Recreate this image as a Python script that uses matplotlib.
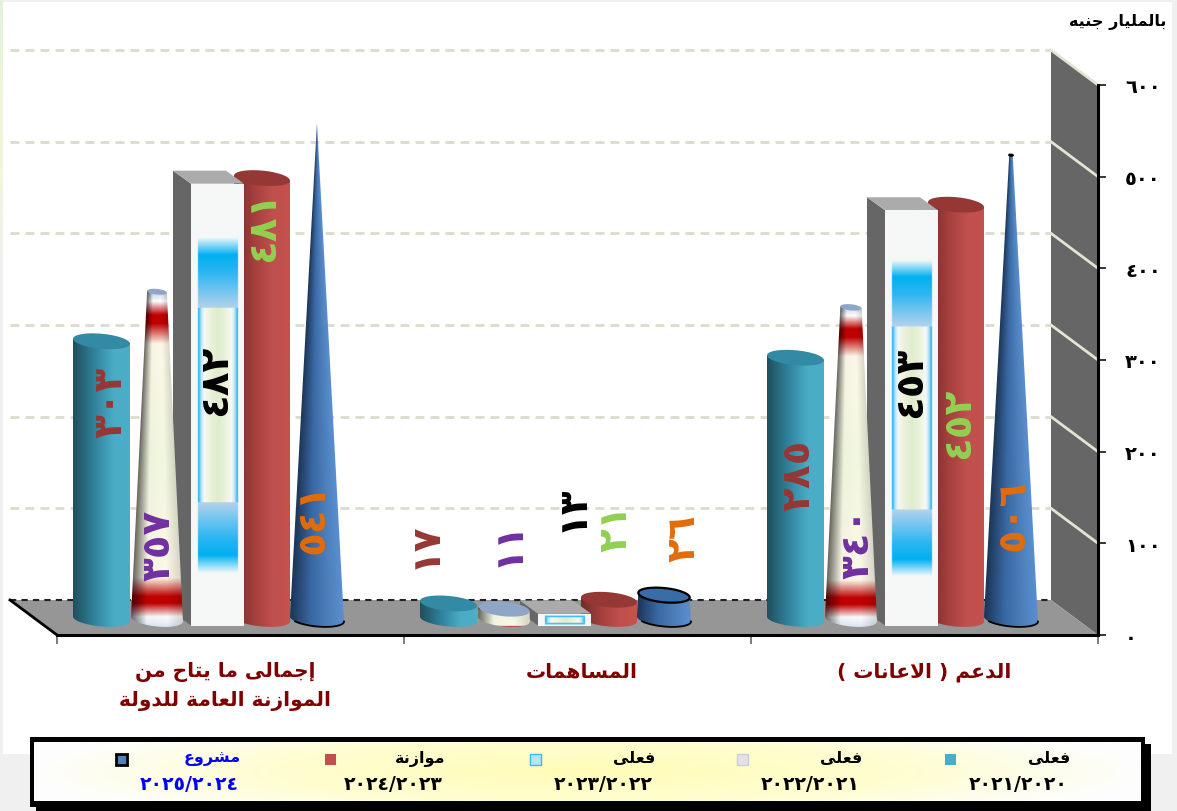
import numpy as np
import matplotlib
matplotlib.use("Agg")
import matplotlib.pyplot as plt
from matplotlib.patches import Polygon, Rectangle
from matplotlib.colors import to_rgb

plt.rcParams['font.family'] = ['DejaVu Sans']

# ---- data -------------------------------------------------------------
categories = ["إجمالى ما يتاح من\nالموازنة العامة للدولة", "المساهمات", "الدعم ( الاعانات )"]
series_names = ["فعلى", "فعلى", "فعلى", "موازنة", "مشروع"]
series_years = ["٢٠٢١/٢٠٢٠", "٢٠٢٢/٢٠٢١", "٢٠٢٣/٢٠٢٢", "٢٠٢٤/٢٠٢٣", "٢٠٢٥/٢٠٢٤"]
actual_2021 = [303, 17, 285]
actual_2022 = [357, 11, 340]
actual_2023 = [482, 13, 453]
budget_2024 = [481, 21, 452]
project_2025 = [541, 26, 506]
series_values = [actual_2021, actual_2022, actual_2023, budget_2024, project_2025]
y_ticks = [0, 100, 200, 300, 400, 500, 600]
unit_label = "بالمليار جنيه"

# ---- layout / style ----------------------------------------------------
W, H = 1177, 812
AX_L, AX_R, AX_T, AX_B = 57, 1098, 86, 636
PX_X = 3 / (AX_R - AX_L)
PX_Y = 600 / (AX_B - AX_T)
DEPTH_X, DEPTH_Y = -47 * PX_X, 35 * PX_Y
BASE = 16 * PX_Y
ELL = 7.5 * PX_Y
TILT = 2.5 * PX_Y
SLOT_LEFT = [16 * PX_X, 74 * PX_X, 134 * PX_X, 177 * PX_X, 233 * PX_X]
SLOT_W = [57 * PX_X, 52 * PX_X, 53 * PX_X, 56 * PX_X, 54 * PX_X]
BOX_DX, BOX_DY = -18 * PX_X, 13 * PX_Y
label_colors = ['#953735', '#7030a0', '#000000', '#92d050', '#e36c09']
# label centres on the page, in pixels
LABEL_PIX_X = [[110, 158, 215, 263, 313], [425, 508, 572, 615, 683], [798, 857, 910, 958, 1012]]
LABEL_PIX_Y = [[402, 545, 380, 226, 518], [545, 543, 508, 528, 538], [475, 543, 382, 423, 515]]
CATEGORY_POS = [.484, 1.513, 2.5]


def shape(text):
    """Arabic presentation forms in visual order (matplotlib does no shaping)."""
    forms = {'ا': (0xFE8D, 0xFE8E), 'إ': (0xFE87, 0xFE88), 'ب': (0xFE8F, 0xFE90, 0xFE91, 0xFE92),
             'ة': (0xFE93, 0xFE94), 'ت': (0xFE95, 0xFE96, 0xFE97, 0xFE98), 'ج': (0xFE9D, 0xFE9E, 0xFE9F, 0xFEA0),
             'ح': (0xFEA1, 0xFEA2, 0xFEA3, 0xFEA4), 'د': (0xFEA9, 0xFEAA), 'ر': (0xFEAD, 0xFEAE),
             'ز': (0xFEAF, 0xFEB0), 'س': (0xFEB1, 0xFEB2, 0xFEB3, 0xFEB4), 'ش': (0xFEB5, 0xFEB6, 0xFEB7, 0xFEB8),
             'ع': (0xFEC9, 0xFECA, 0xFECB, 0xFECC), 'ف': (0xFED1, 0xFED2, 0xFED3, 0xFED4),
             'ل': (0xFEDD, 0xFEDE, 0xFEDF, 0xFEE0), 'م': (0xFEE1, 0xFEE2, 0xFEE3, 0xFEE4),
             'ن': (0xFEE5, 0xFEE6, 0xFEE7, 0xFEE8), 'ه': (0xFEE9, 0xFEEA, 0xFEEB, 0xFEEC),
             'و': (0xFEED, 0xFEEE), 'ى': (0xFEEF, 0xFEF0), 'ي': (0xFEF1, 0xFEF2, 0xFEF3, 0xFEF4)}
    out = []
    i = 0
    while i < len(text):
        c = text[i]
        if c not in forms:
            out.append({'(': ')', ')': '('}.get(c, c))
            i += 1
            continue
        prev = text[i - 1] if i else ' '
        joined_prev = prev in forms and len(forms[prev]) == 4
        if c == 'ل' and i + 1 < len(text) and text[i + 1] == 'ا':
            out.append(chr(0xFEFC if joined_prev else 0xFEFB))
            i += 2
            continue
        nxt = text[i + 1] if i + 1 < len(text) else ' '
        f = forms[c]
        joins_next = len(f) == 4 and nxt in forms
        if joined_prev and joins_next:
            out.append(chr(f[3]))
        elif joined_prev:
            out.append(chr(f[1]))
        elif joins_next:
            out.append(chr(f[2]))
        else:
            out.append(chr(f[0]))
        i += 1
    return ''.join(reversed(out))


def arabic_digits(v):
    return ''.join('٠١٢٣٤٥٦٧٨٩'[int(d)] for d in str(v))


def rgb_ramp(pos, stops):
    xs = [s[0] for s in stops]
    cols = np.array([to_rgb(s[1]) for s in stops])
    return np.stack([np.interp(pos, xs, cols[:, k]) for k in range(3)], axis=-1)


def teal(u, t):
    return rgb_ramp(u, [(0, '#1f4f5c'), (.35, '#2f7f98'), (.72, '#4bacc6'), (1, '#4cadc8')])


def red(u, t):
    return rgb_ramp(u, [(0, '#6f2c2a'), (.35, '#a33f3d'), (.7, '#c0504d'), (1, '#c4524f')])


def blue(u, t):
    return rgb_ramp(u, [(0, '#1d3557'), (.4, '#3a6aa5'), (.75, '#4f81bd'), (1, '#5a8fd0')])


def striped(u, t):
    col = rgb_ramp(t, [(0, '#d5e3f2'), (.035, '#fbfbfb'), (.075, '#c00000'), (.095, '#c00000'), (.15, '#fcf8e8'),
                       (.5, '#f2f8e0'), (.84, '#fcf8e8'), (.9, '#c00000'), (.925, '#c00000'), (.965, '#ffffff'),
                       (1, '#b4c6e0')])
    shade = np.interp(u, [0, .3, .7, 1], [.42, .98, 1, .86])
    return col * shade[..., None]


def panel(u, t):
    img = np.ones(u.shape + (3,)) * np.array(to_rgb('#f6f7f7'))
    mask = (u > .13) & (u < .89) & (t > .12) & (t < .88)
    tf = np.minimum(t, 1 - t)
    vert = rgb_ramp(tf, [(.12, '#f0f8fb'), (.16, '#00b0f0'), (.2, '#2cb6f2'), (.28, '#b4d2ec')])
    side = rgb_ramp(np.minimum(u - .13, .89 - u), [(0, '#10b0f0'), (.07, '#c8e8f6'), (.14, '#ffffff')])
    inner_row = (tf >= .28)
    img[mask & ~inner_row] = vert[mask & ~inner_row]
    img[mask & inner_row] = side[mask & inner_row]
    core = (u > .27) & (u < .75) & inner_row
    img[core] = rgb_ramp(u, [(.27, '#f6f8ea'), (.4, '#e8f0d8'), (.51, '#dfeccd'), (.62, '#e8f0d8'), (.75, '#f6f8ea')])[core]
    return img


def painted_body(ax, cx, w0, w1, y0, y1, fn, z):
    """Fill a cylinder / cone body from base width w0 to top width w1."""
    ts = np.linspace(0, np.pi, 60)
    rx0, rx1 = w0 / 2, w1 / 2
    k = w1 / w0
    ex = cx + rx0 * np.cos(ts)
    ey = y0 - ELL * np.sin(ts) - TILT * np.cos(ts)
    poly = np.column_stack([np.r_[cx - rx1, cx + rx1, ex], np.r_[y1 + TILT * k, y1 - TILT * k, ey]])
    patch = Polygon(poly, closed=True, fc='none', ec='none', transform=ax.transData)
    ax.add_patch(patch)
    ny, nx = 400, 120
    ylo, yhi = y0 - ELL - TILT, y1 + TILT
    xs = np.linspace(cx - rx0, cx + rx0, nx)
    yy = np.linspace(ylo, yhi, ny)
    X, Y = np.meshgrid(xs, yy)
    frac = np.clip((Y - y0) / max(y1 - y0, 1e-6), 0, 1)
    half = rx0 + (rx1 - rx0) * frac
    U = np.clip((X - cx + half) / (2 * np.maximum(half, 1e-6)), 0, 1)
    T = np.clip((Y - ylo) / (yhi - ylo), 0, 1)
    im = ax.imshow(fn(U, T), origin='lower', extent=(cx - rx0, cx + rx0, ylo, yhi), aspect='auto',
                   interpolation='bilinear', zorder=z)
    im.set_clip_path(patch)


def top_ellipse(ax, cx, w, y, color, z, k=1.0, ec='none', lw=0):
    ts = np.linspace(0, 2 * np.pi, 80)
    pts = np.column_stack([cx + w / 2 * np.cos(ts), y + ELL * k * np.sin(ts) - TILT * k * np.cos(ts)])
    ax.add_patch(Polygon(pts, closed=True, fc=color, ec=ec, lw=lw, zorder=z, clip_on=False))


def cylinder(ax, left, w, v, fn, top, z):
    y1 = BASE + v
    painted_body(ax, left + w / 2, w, w, BASE, y1, fn, z)
    top_ellipse(ax, left + w / 2, w, y1, top, z + .1)


def cone(ax, left, w, v, reach, fn, top, z, outline=False):
    y1 = BASE + v
    cx = left + w / 2
    w1 = w * max(1 - v / reach, 0)
    painted_body(ax, cx, w, w1, BASE, y1, fn, z)
    if w1 > 0:
        top_ellipse(ax, cx, w1, y1, top, z + .1, k=w1 / w, ec='black' if outline else 'none', lw=1.6 if outline else 0)
    if outline:
        ts = np.linspace(0, np.pi * .8, 40)
        ax.plot(cx + w / 2 * np.cos(ts), BASE - ELL * np.sin(ts) - TILT * np.cos(ts), color='black', lw=1.3,
                zorder=z + .2, clip_on=False)


def box(ax, left, w, v, fn, z):
    front = BASE - BOX_DY / 2
    y1 = front + v
    ax.add_patch(Polygon([(left, front), (left, y1), (left + BOX_DX, y1 + BOX_DY), (left + BOX_DX, front + BOX_DY)],
                         closed=True, fc='#666666', ec='none', zorder=z, clip_on=False))
    ax.add_patch(Polygon([(left, y1), (left + w, y1), (left + w + BOX_DX, y1 + BOX_DY), (left + BOX_DX, y1 + BOX_DY)],
                         closed=True, fc='#ababab', ec='none', zorder=z, clip_on=False))
    xs = np.linspace(0, 1, 160)
    ts = np.linspace(0, 1, 500)
    U, T = np.meshgrid(xs, ts)
    ax.imshow(fn(U, T), origin='lower', extent=(left, left + w, front, y1), aspect='auto',
              interpolation='bilinear', zorder=z + .1, clip_on=False)


# ---- figure ------------------------------------------------------------
fig = plt.figure(figsize=(W / 100, H / 100), dpi=100, facecolor='#f0f0f0')
page = fig.add_axes([0, 0, 1, 1], zorder=0)
page.set_xlim(0, W)
page.set_ylim(H, 0)
page.axis('off')
page.add_patch(Rectangle((3, 3), 1169, 752, fc='white', ec='none'))
page.imshow(rgb_ramp(np.linspace(0, 1, 60)[:, None], [(0, '#e4f2dc'), (.6, '#f4f6da'), (1, '#f0f0f0')]),
            extent=(0, 3, 270, 0), aspect='auto', zorder=1)
page.set_xlim(0, W)
page.set_ylim(H, 0)

# legend frame
page.add_patch(Rectangle((36, 745), 1115, 67, fc='black', ec='none', zorder=2))
page.add_patch(Rectangle((30, 738), 1115, 70, fc='black', ec='none', zorder=2))
lx = np.linspace(-1, 1, 300)
ly = np.linspace(-1, 1, 60)
LX, LY = np.meshgrid(lx, ly)
RR = np.sqrt(LX ** 2 + LY ** 2 * .3)
page.imshow(rgb_ramp(RR, [(0, '#fffcb8'), (.6, '#fffed2'), (1, '#fdfdfd')]),
            extent=(34, 1141, 802, 743), aspect='auto', zorder=3, interpolation='bilinear')
page.set_xlim(0, W)
page.set_ylim(H, 0)
legend_fc = ['#4bacc6', '#e4e0ea', '#b8e4f8', '#c0504d', '#4f81bd']
legend_ec = ['#4bacc6', '#c4cfe0', '#40b8f0', '#c0504d', '#000000']
legend_lw = [0, 1, 1, 0, 2]
legend_text = ['#000000', '#000000', '#000000', '#000000', '#0000ff']
legend_marker_x = [950, 742, 535, 330, 121]
legend_text_x = [1070, 862, 655, 445, 241]
for name, yrs, mx, tx, fc, ec, lw, tc in zip(series_names, series_years, legend_marker_x, legend_text_x,
                                             legend_fc, legend_ec, legend_lw, legend_text):
    page.add_patch(Rectangle((mx - 5.5, 754.5), 11, 11, fc=fc, ec=ec, lw=lw, zorder=4))
    page.text(tx, 759, shape(name), ha='right', va='center', fontsize=11.5, fontweight='bold', color=tc, zorder=4)
    page.text(tx - 2, 785, yrs, ha='right', va='center', fontsize=13.5, fontweight='bold', color=tc, zorder=4)

page.text(1166, 22, shape(unit_label), ha='right', va='center', fontsize=11.5, fontweight='bold', color='black', zorder=4)

# main chart axes
ax = fig.add_axes([AX_L / W, 1 - AX_B / H, (AX_R - AX_L) / W, (AX_B - AX_T) / H], zorder=1)
ax.patch.set_alpha(0)
ax.set_autoscale_on(False)
ax.set_xlim(0, 3)
ax.set_ylim(0, 600)
for s in ('left', 'top'):
    ax.spines[s].set_visible(False)
for s in ('right', 'bottom'):
    ax.spines[s].set_linewidth(2.2)
    ax.spines[s].set_color('black')
    ax.spines[s].set_zorder(20)

# side wall, floor, gridlines
ax.add_patch(Polygon([(3, 0), (3, 600), (3 + DEPTH_X, 600 + DEPTH_Y), (3 + DEPTH_X, DEPTH_Y)], closed=True,
                     fc='#666666', ec='none', zorder=1, clip_on=False))
ax.add_patch(Polygon([(0, 0), (3, 0), (3 + DEPTH_X, DEPTH_Y), (DEPTH_X, DEPTH_Y)], closed=True,
                     fc='#969696', ec='none', zorder=1, clip_on=False))
for v in y_ticks[1:]:
    ax.plot([DEPTH_X, 3 + DEPTH_X], [v + DEPTH_Y] * 2, color='#dcdccc', lw=2, dashes=(3.2, 2.2), zorder=1.5, clip_on=False)
    ax.plot([3 + DEPTH_X, 3], [v + DEPTH_Y, v], color='#e4e4d4', lw=2, zorder=1.5, clip_on=False)
ax.plot([DEPTH_X, 3 + DEPTH_X], [DEPTH_Y] * 2, color='#222222', lw=1.5, dashes=(3, 2.5), zorder=1.5, clip_on=False)
ax.plot([DEPTH_X, 0], [DEPTH_Y, 0], color='black', lw=2, zorder=2, clip_on=False)

# marks
CONE_REACH = 575
for g in range(len(categories)):
    vals = [s[g] for s in series_values]
    lefts = [g + p for p in SLOT_LEFT]
    cylinder(ax, lefts[3], SLOT_W[3], vals[3], red, '#953735', 3)
    box(ax, lefts[2], SLOT_W[2], vals[2], panel, 4)
    cylinder(ax, lefts[0], SLOT_W[0], vals[0], teal, '#328aa4', 5)
    cone(ax, lefts[1], SLOT_W[1], vals[1], CONE_REACH, striped, '#90a6c6', 6)
    cone(ax, lefts[4], SLOT_W[4], vals[4], max(project_2025), blue, '#3a6ca8', 7, outline=True)
    for k, v in enumerate(vals):
        lx_ = (LABEL_PIX_X[g][k] - AX_L) * PX_X
        ly_ = (AX_B - LABEL_PIX_Y[g][k]) * PX_Y
        ax.text(lx_, ly_, arabic_digits(v), rotation=90, ha='center', va='center',
                fontsize=28, fontweight='bold', color=label_colors[k], zorder=9, clip_on=False)

# axes furniture
ax.yaxis.tick_right()
ax.set_yticks(y_ticks)
ax.set_yticklabels([arabic_digits(v) for v in y_ticks], fontsize=14, fontweight='bold', color='black')
ax.tick_params(axis='y', length=6, width=1.1, color='black', pad=13.5)
ax.set_xticks([0, 1, 2, 3])
ax.set_xticklabels([])
ax.tick_params(axis='x', which='major', length=6.5, width=1.2, color='#666666')
ax.set_xticks(CATEGORY_POS, minor=True)
ax.set_xticklabels(['\n'.join(shape(line) for line in c.split('\n')) for c in categories], minor=True,
                   fontsize=14.5, fontweight='bold', color='#800000', linespacing=1.55)
ax.tick_params(axis='x', which='minor', length=0, pad=19)

fig.savefig('out.png', dpi=100, facecolor=fig.get_facecolor())
